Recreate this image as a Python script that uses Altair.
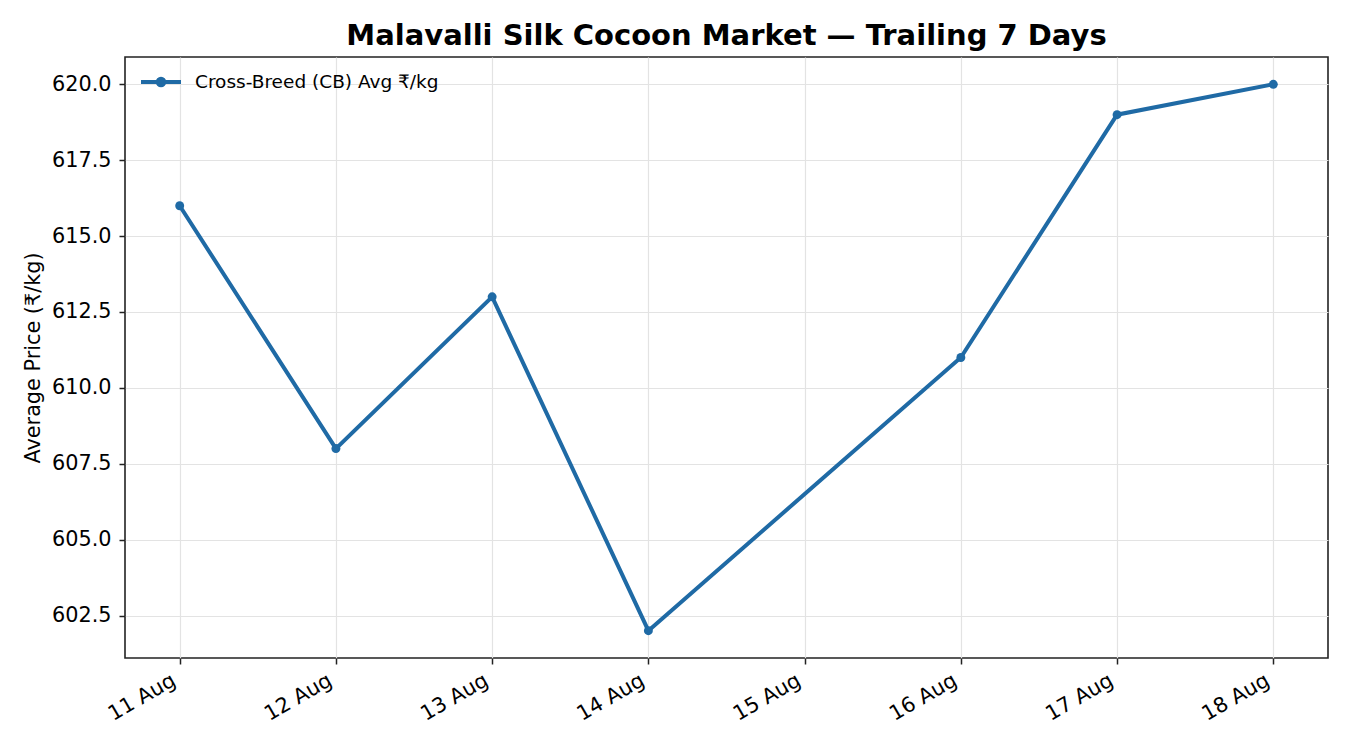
import altair as alt
import pandas as pd

days = [11, 12, 13, 14, 16, 17, 18]
prices = [616, 608, 613, 602, 611, 619, 620]
tick_days = [11, 12, 13, 14, 15, 16, 17, 18]
y_ticks = [602.5, 605.0, 607.5, 610.0, 612.5, 615.0, 617.5, 620.0]
series = "Cross-Breed (CB) Avg ₹/kg"

df = pd.DataFrame({"day": days, "price": prices, "series": [series] * len(days)})

FONT = "DejaVu Sans"
BLUE = "#1f6aa5"
FS = 20.8

x = alt.X("day:Q", scale=alt.Scale(domain=[10.65, 18.35], nice=False, zero=False),
          axis=alt.Axis(values=tick_days, labelExpr="datum.value + ' Aug'", labelAngle=-30,
                        labelAlign="right", labelBaseline="top", labelFontSize=FS, labelFont=FONT,
                        labelColor="black", tickColor="#222", tickSize=6, tickWidth=1.5,
                        domain=False, grid=True, gridColor="#e3e3e3", gridWidth=1.2,
                        labelPadding=6, labelOffset=-11, title=None, labelFlush=False,
                        labelOverlap=False))
y = alt.Y("price:Q", scale=alt.Scale(domain=[601.1, 620.9], nice=False, zero=False),
          axis=alt.Axis(values=y_ticks, format=".1f", labelFontSize=FS, labelFont=FONT,
                        labelColor="black", tickColor="#222", tickSize=6, tickWidth=1.5,
                        domain=False, grid=True, gridColor="#e3e3e3", gridWidth=1.2,
                        title="Average Price (₹/kg)", titleFont=FONT, titleFontSize=FS,
                        titleFontWeight="normal", titleColor="black", titlePadding=8,
                        labelPadding=8, labelFlush=False, labelOverlap=False))

color = alt.Color("series:N", scale=alt.Scale(domain=[series], range=[BLUE]),
                  legend=alt.Legend(orient="none", legendX=14, legendY=3, title=None,
                                    labelFont=FONT, labelFontSize=18.5, labelColor="black",
                                    labelLimit=0,
                                    symbolType="M -1 0 L 1 0 M 0.17 0 A 0.17 0.17 0 1 1 -0.17 0 A 0.17 0.17 0 1 1 0.17 0",
                                    symbolSize=1600, symbolStrokeWidth=3.8, symbolFillColor=BLUE,
                                    symbolStrokeColor=BLUE, labelOffset=12))

line = alt.Chart(df).mark_line(strokeWidth=4).encode(x=x, y=y, color=color)
pts = alt.Chart(df).mark_circle(size=80, opacity=1).encode(
    x=x, y=y,
    color=alt.Color("series:N", scale=alt.Scale(domain=[series], range=[BLUE]), legend=None))

chart = (line + pts).properties(
    width=1203, height=601,
    background="white",
    title=alt.TitleParams("Malavalli Silk Cocoon Market — Trailing 7 Days", font=FONT,
                          fontSize=29, fontWeight="bold", color="black", offset=6),
    autosize=alt.AutoSizeParams(type="none"),
    padding={"left": 117, "top": 49, "right": 14, "bottom": 84},
).configure_view(stroke="#222", strokeWidth=1.6)

chart.save("out.html", embed_options={"renderer": "svg", "actions": False})
